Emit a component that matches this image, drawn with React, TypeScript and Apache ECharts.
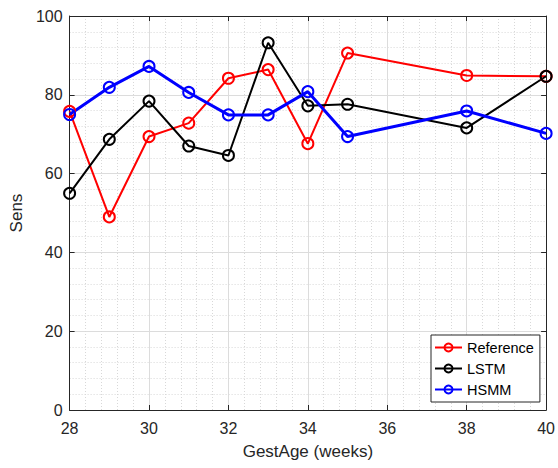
import React, { useEffect, useRef } from "react";
import * as echarts from "echarts";

const gestAge = [28, 29, 30, 31, 32, 33, 34, 35, 38, 40];
const referenceSens = [75.8, 49.0, 69.4, 72.8, 84.2, 86.4, 67.6, 90.6, 84.9, 84.7];
const lstmSens = [55.0, 68.7, 78.4, 67.0, 64.6, 93.2, 77.2, 77.6, 71.6, 84.7];
const hsmmSens = [75.0, 81.9, 87.2, 80.6, 74.9, 74.9, 80.8, 69.4, 75.9, 70.2];

const xTicks = [28, 30, 32, 34, 36, 38, 40];
const yTicks = [0, 20, 40, 60, 80, 100];

const FONT = "'Liberation Sans', Arial, Helvetica, sans-serif";
const DARK = "#262626";

export default function App() {
  const ref = useRef<HTMLDivElement>(null);
  useEffect(() => {
    if (!ref.current) return;
    const chart = echarts.init(ref.current, undefined, { renderer: "svg" });
    const mk = (name: string, data: number[], color: string, width: number) => ({
      name,
      type: "line",
      data: gestAge.map((x, i) => [x, data[i]]),
      symbol: "circle",
      symbolSize: 11,
      showSymbol: true,
      lineStyle: { color, width },
      itemStyle: { color: "rgba(0,0,0,0)", borderColor: color, borderWidth: 2 },
      emphasis: { disabled: true },
    });
    chart.setOption({
      animation: false,
      backgroundColor: "#ffffff",
      grid: { left: 65, right: 9, top: 16, bottom: 58, containLabel: false },
      legend: {
        orient: "vertical",
        left: 431,
        top: 335,
        padding: [4, 6, 4, 3],
        itemGap: 4,
        itemWidth: 27,
        itemHeight: 10,
        backgroundColor: "#ffffff",
        borderColor: DARK,
        borderWidth: 1,
        borderRadius: 0,
        textStyle: { fontFamily: FONT, fontSize: 14.5, color: "#000", lineHeight: 17 },
        data: ["Reference", "LSTM", "HSMM"],
      },
      xAxis: [
        {
          type: "value",
          min: xTicks[0],
          max: xTicks[xTicks.length - 1],
          interval: 2,
          name: "GestAge (weeks)",
          nameLocation: "middle",
          nameGap: 33,
          nameTextStyle: { fontFamily: FONT, fontSize: 17, color: DARK },
          axisLine: { show: true, lineStyle: { color: DARK, width: 1 } },
          axisTick: { show: true, inside: true, length: 5, lineStyle: { color: DARK } },
          axisLabel: { fontFamily: FONT, fontSize: 16, color: DARK, margin: 10 },
          splitLine: { show: true, lineStyle: { color: "#dcdcdc", width: 1 } },
          minorTick: { show: false, splitNumber: 5 },
          minorSplitLine: { show: true, lineStyle: { color: "#d8d8d8", width: 1, type: [1, 2] } },
        },
        {
          type: "value",
          position: "top",
          min: xTicks[0],
          max: xTicks[xTicks.length - 1],
          interval: 2,
          axisLine: { show: true, onZero: false, lineStyle: { color: DARK, width: 1 } },
          axisTick: { show: true, inside: true, length: 5, lineStyle: { color: DARK } },
          axisLabel: { show: false },
          splitLine: { show: false },
        },
      ],
      yAxis: [
        {
          type: "value",
          min: yTicks[0],
          max: yTicks[yTicks.length - 1],
          interval: 20,
          name: "Sens",
          nameLocation: "middle",
          nameGap: 40,
          nameTextStyle: { fontFamily: FONT, fontSize: 17, color: DARK },
          axisLine: { show: true, lineStyle: { color: DARK, width: 1 } },
          axisTick: { show: true, inside: true, length: 5, lineStyle: { color: DARK } },
          axisLabel: { fontFamily: FONT, fontSize: 16, color: DARK, margin: 7 },
          splitLine: { show: true, lineStyle: { color: "#dcdcdc", width: 1 } },
          minorTick: { show: false, splitNumber: 5 },
          minorSplitLine: { show: true, lineStyle: { color: "#d8d8d8", width: 1, type: [1, 2] } },
        },
        {
          type: "value",
          position: "right",
          min: yTicks[0],
          max: yTicks[yTicks.length - 1],
          interval: 20,
          axisLine: { show: true, onZero: false, lineStyle: { color: DARK, width: 1 } },
          axisTick: { show: true, inside: true, length: 5, lineStyle: { color: DARK } },
          axisLabel: { show: false },
          splitLine: { show: false },
        },
      ],
      series: [
        mk("Reference", referenceSens, "#ff0000", 2),
        mk("LSTM", lstmSens, "#000000", 2),
        mk("HSMM", hsmmSens, "#0000ff", 3),
      ],
    });
    return () => chart.dispose();
  }, []);
  return <div ref={ref} style={{ width: 558, height: 468, position: "absolute", left: 0, top: 0 }} />;
}
